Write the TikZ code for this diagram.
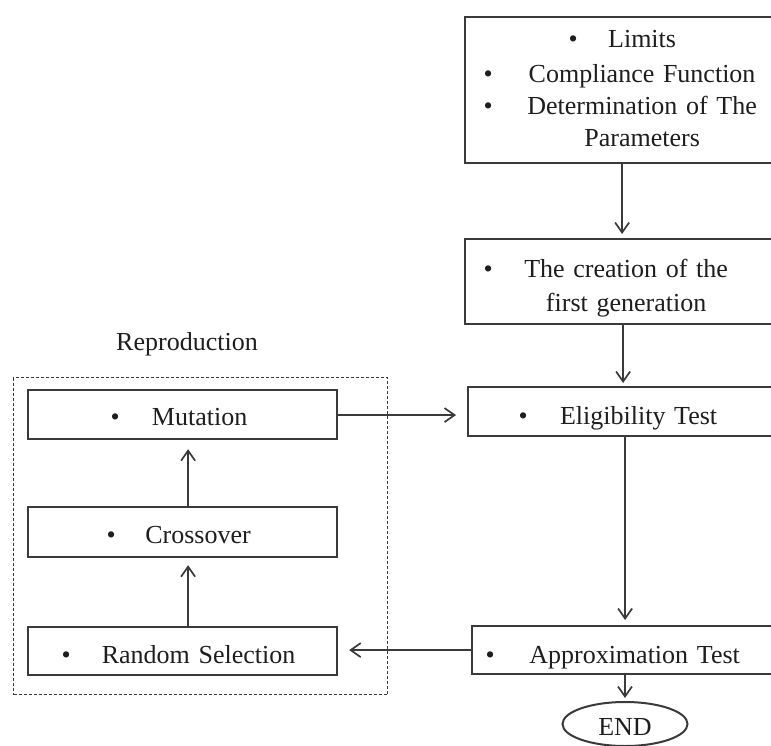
\documentclass[tikz,border=0pt]{standalone}
\usepackage{fontspec}
\setmainfont{Liberation Serif}
\usetikzlibrary{arrows.meta,shapes.geometric}
\newcommand\bline[3]{\makebox[0pt][l]{\hspace*{#1pt}\textbullet}\makebox[0pt][l]{\hspace*{#2pt}\makebox[0pt][c]{#3}}}
\newcommand\tline[2]{\makebox[0pt][l]{\hspace*{#1pt}\makebox[0pt][c]{#2}}}
\definecolor{ln}{HTML}{3A3A3A}
\definecolor{tx}{HTML}{1E1E1E}
\tikzset{
  box/.style={draw=ln, line width=2.2pt, rectangle, anchor=north west, inner sep=0pt,
    align=left, text=tx, font=\fontsize{26}{32}\selectfont},
  oneline/.style={text height=#1, text depth=0pt},
  arr/.style={draw=ln, line width=1.7pt, -{Straight Barb[length=10pt,width=14pt,line width=1.7pt]}},
  repbox/.style={draw=ln, line width=1pt, dash pattern=on 3pt off 2pt, anchor=north west, inner sep=0pt},
  lbl/.style={text=tx, font=\fontsize{26}{32}\selectfont, inner sep=0pt},
  endnode/.style={draw=ln, line width=2pt, ellipse, inner sep=0pt, minimum width=125pt, minimum height=44pt,
    text=tx, font=\fontsize{26}{32}\selectfont, text height=23pt, text depth=0pt}
}
\begin{document}
\begin{tikzpicture}[x=1pt,y=-1pt]
\useasboundingbox (0,0) rectangle (771,746);
\clip (0,0) rectangle (771,746);
\fill[white] (0,0) rectangle (771,746);
% right column
\node[box, minimum width=314pt, text width=314pt, minimum height=146pt] (top) at (464,16)
  {\raisebox{3.5pt}[\height][\depth]{\bline{103.5}{177}{Limits}}\\\bline{18.5}{177}{Compliance  Function}\\\bline{18.5}{177}{Determination  of The}\\\tline{177}{Parameters}};
\node[box, minimum width=314pt, text width=314pt, minimum height=85pt] (create) at (464,238)
  {\rule{0pt}{32pt}\bline{18.5}{161}{The creation of the}\\[2pt]\tline{161}{first generation}};
\node[box, oneline=25pt, minimum width=311pt, text width=311pt, minimum height=49pt] (elig) at (467,386)
  {\bline{50.5}{170.5}{Eligibility  Test}};
\node[box, oneline=26pt, minimum width=307pt, text width=307pt, minimum height=48pt] (approx) at (471,625)
  {\bline{13.5}{162.5}{Approximation  Test}};
\node[endnode] (end) at (625,724) {END};
% reproduction group
\node[lbl] (replabel) at (187,344) {Reproduction};
\node[repbox, minimum width=374pt, minimum height=317pt] (repro) at (13,377) {};
\node[box, oneline=22pt, minimum width=309pt, text width=309pt, minimum height=49pt] (mut) at (27,389)
  {\bline{82.5}{171.5}{Mutation}};
\node[box, oneline=23pt, minimum width=309pt, text width=309pt, minimum height=50pt] (cross) at (27,506)
  {\bline{78.5}{170}{Crossover}};
\node[box, oneline=24pt, minimum width=309pt, text width=309pt, minimum height=48pt] (rand) at (27,626)
  {\bline{33.5}{170.5}{Random  Selection}};
% connectors
\draw[arr, shorten >=4pt] (top.south) -- (top.south |- create.north);
\draw[arr, shorten >=3pt] ([xshift=1pt]create.south) -- ([xshift=1pt]create.south |- elig.north);
\draw[arr, shorten >=5pt] ([xshift=1.5pt]elig.south) -- ([xshift=1.5pt]elig.south |- approx.north);
\draw[arr, shorten >=3pt] (approx.south -| end.north) -- (end.north);
\draw[arr, shorten >=11pt] ([yshift=-0.5pt]mut.east) -- ([yshift=-0.5pt]mut.east -| elig.west);
\draw[arr, shorten >=11pt] (approx.west) -- (approx.west -| rand.east);
\draw[arr, shorten >=7pt] ([xshift=5.5pt]rand.north) -- ([xshift=5.5pt]cross.south);
\draw[arr, shorten >=9pt] ([xshift=5.5pt]cross.north) -- ([xshift=5.5pt]mut.south);
\end{tikzpicture}
\end{document}
